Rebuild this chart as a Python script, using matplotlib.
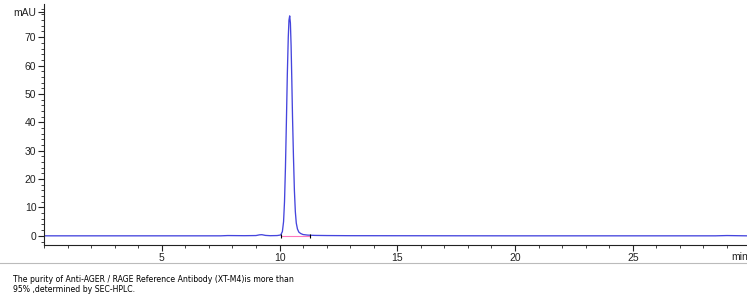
import matplotlib
matplotlib.use("Agg")
import matplotlib.pyplot as plt
from matplotlib.ticker import MultipleLocator
from matplotlib.lines import Line2D

# retention time (min) and absorbance (mAU)
time_min = [0.0, 7.5, 7.8, 8.5, 9.0, 9.15, 9.25, 9.4, 9.6, 9.9, 10.05, 10.12,
            10.17, 10.21, 10.25, 10.29, 10.33, 10.37, 10.40, 10.43, 10.46,
            10.49, 10.52, 10.55, 10.59, 10.63, 10.67, 10.71, 10.76, 10.82,
            10.9, 11.0, 11.2, 11.5, 12.0, 13.0, 20.0, 28.5, 29.0, 29.85]
signal_mau = [0.0, 0.0, 0.1, 0.05, 0.1, 0.35, 0.4, 0.15, 0.05, 0.1, 0.3, 1.5,
              5.0, 12.0, 24.0, 40.0, 57.0, 70.0, 76.0, 77.5, 75.0,
              67.0, 55.0, 42.0, 28.0, 16.0, 8.5, 4.5, 2.4, 1.3,
              0.8, 0.45, 0.25, 0.15, 0.1, 0.05, 0.0, 0.0, 0.1, 0.0]
baseline_t = [10.08, 11.3]
baseline_v = [-0.1, -0.1]
marker_t = [10.08, 11.3]

caption = ("The purity of Anti-AGER / RAGE Reference Antibody (XT-M4)is more than\n"
           "95% ,determined by SEC-HPLC.")

plt.rcParams['font.family'] = ['Liberation Sans', 'DejaVu Sans']

fig = plt.figure(figsize=(7.47, 3.05), dpi=100)
ax = fig.add_axes([0.059, 0.197, 0.941, 0.790])

ax.plot(time_min, signal_mau, color='#4545dd', lw=0.95)
ax.plot(baseline_t, baseline_v, color='#ff77bb', lw=0.8)
ax.vlines(marker_t, -0.6, 0.8, color='black', lw=0.8)

ax.set_xlim(0, 29.85)
ax.set_ylim(-3.2, 81.7)
ax.xaxis.set_minor_locator(MultipleLocator(1))
ax.set_xticks([5, 10, 15, 20, 25])
ax.set_yticks([0, 10, 20, 30, 40, 50, 60, 70, 79])
ax.set_yticklabels(['0', '10', '20', '30', '40', '50', '60', '70', 'mAU'])
ax.yaxis.set_minor_locator(MultipleLocator(2))

for s in ['top', 'right']:
    ax.spines[s].set_visible(False)
for s in ['left', 'bottom']:
    ax.spines[s].set_linewidth(0.8)
    ax.spines[s].set_color('#222222')

ax.tick_params(axis='both', which='major', direction='out', length=4,
               width=0.8, labelsize=7.5, colors='#222222', pad=1.5)
ax.tick_params(axis='both', which='minor', direction='out', length=2.5,
               width=0.6, colors='#222222')

fig.text(0.979, 0.156, 'min', fontsize=7.5, ha='left', va='center', color='#222222')

fig.add_artist(Line2D([0, 1], [0.138, 0.138], color='#bbbbbb', lw=0.8,
                      transform=fig.transFigure))
fig.text(0.017, 0.067, caption, fontsize=5.6, ha='left', va='center',
         color='black', linespacing=1.25, family=['DejaVu Sans'])

fig.savefig('out.png', dpi=100)
